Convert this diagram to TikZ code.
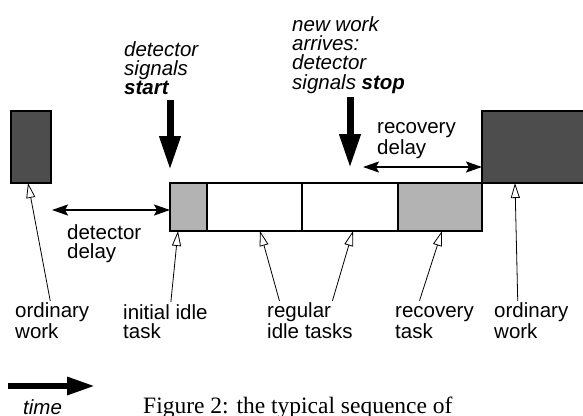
\documentclass[tikz,border=0pt]{standalone}
\usepackage{fontspec}
\setmainfont{Liberation Serif}
\setsansfont{Liberation Sans}
\usetikzlibrary{arrows.meta, positioning, calc}
\definecolor{workgray}{HTML}{4D4D4D}
\definecolor{idlegray}{HTML}{B3B3B3}

\begin{document}
\begin{tikzpicture}[x=1pt, y=-1pt,
  taskbox/.style={draw=black, line width=1.5pt, inner sep=0pt, outer sep=0pt,
    anchor=north west, minimum height=48pt},
  workbox/.style={taskbox, fill=workgray, minimum height=72pt},
  note/.style={font=\fontsize{20.5}{19}\selectfont\sffamily, align=left,
    inner sep=0pt, anchor=base west},
  pointer/.style={line width=0.8pt, -{Triangle[open, length=15pt, width=9pt, fill=white]}},
  delay/.style={line width=2pt,
    {Stealth[length=16pt, width=11pt, inset=3pt]}-{Stealth[length=16pt, width=11pt, inset=3pt]}},
  signal/.style={line width=7pt, -{Triangle[length=34pt, width=20pt]}}]

\useasboundingbox (0,0) rectangle (583,415);

% Ordinary work and idle tasks
\node[workbox, minimum width=40pt] (workL) at (11,111) {};
\node[taskbox, fill=idlegray, minimum width=37pt] (idleA) at (170,183) {};
\node[taskbox, fill=white, minimum width=95pt] (idleB) at (207,183) {};
\node[taskbox, fill=white, minimum width=96pt] (idleC) at (302,183) {};
\node[taskbox, fill=idlegray, minimum width=84pt] (recov) at (398,183) {};
\node[workbox, minimum width=110pt] (workR) at (482,111) {};

% Detector signals (anchored at the last line)
\node[note, font=\fontsize{20.5}{19}\selectfont\sffamily\itshape] (startlbl) at (124,94)
  {detector\\signals\\\textbf{start}};
\node[note, font=\fontsize{20.5}{19.3}\selectfont\sffamily\itshape] (stoplbl) at (292,89)
  {new work\\arrives:\\detector\\signals \textbf{stop}};
\coordinate (startTop) at (170,100);
\coordinate (stopTop) at (350,97);
\coordinate (stopTip) at (350,168);
\draw[signal] (startTop) -- ([yshift=13pt]idleA.north west);
\draw[signal] (stopTop) -- (stopTip);

% Delays
\coordinate (detEnd) at (52,210);
\coordinate (recEnd) at (363,167);
\draw[delay] (detEnd) -- ([yshift=-3pt]idleA.west);
\draw[delay] (recEnd) -- ([yshift=16pt]workR.south west);
\node[note, font=\fontsize{20.5}{18}\selectfont\sffamily] (recdelay) at (377,154) {recovery\\delay};
\node[note] (detdelay) at (67,258) {detector\\delay};

% Labels below
\node[note] (ordL) at (15,338) {ordinary\\work};
\node[note] (initT) at (123,338) {initial idle\\task};
\node[note] (regT) at (267,338) {regular\\idle tasks};
\node[note] (recT) at (395,338) {recovery\\task};
\node[note] (ordR) at (494,338) {ordinary\\work};

% Pointers
\draw[pointer] ([xshift=-2pt, yshift=2pt]ordL.north) -- ([xshift=17pt]workL.south west);
\draw[pointer] ([xshift=5.5pt, yshift=2pt]initT.north) -- ([xshift=8pt]idleA.south west);
\draw[pointer] ([xshift=-30.5pt, yshift=2pt]regT.north) -- ([xshift=53pt]idleB.south west);
\draw[pointer] ([xshift=22.5pt, yshift=2pt]regT.north) -- ([xshift=51pt]idleC.south west);
\draw[pointer] ([xshift=-15pt, yshift=6pt]recT.north) -- ([xshift=44pt]recov.south west);
\draw[pointer] ([xshift=-13.5pt, yshift=2pt]ordR.north) -- ([xshift=33pt]workR.south west);

% Time arrow and caption
\coordinate (timeL) at (8,386);
\coordinate (timeR) at (95,386);
\draw[line width=6pt, -{Triangle[length=28pt, width=17pt]}] (timeL) -- (timeR);
\node[note, font=\fontsize{20.5}{19}\selectfont\sffamily\itshape] (timelbl) at (23,414) {time};
\node[note, font=\fontsize{23.5}{26}\selectfont\rmfamily] (figcap) at (143,413)
  {Figure 2: the typical sequence of};

\end{tikzpicture}
\end{document}
